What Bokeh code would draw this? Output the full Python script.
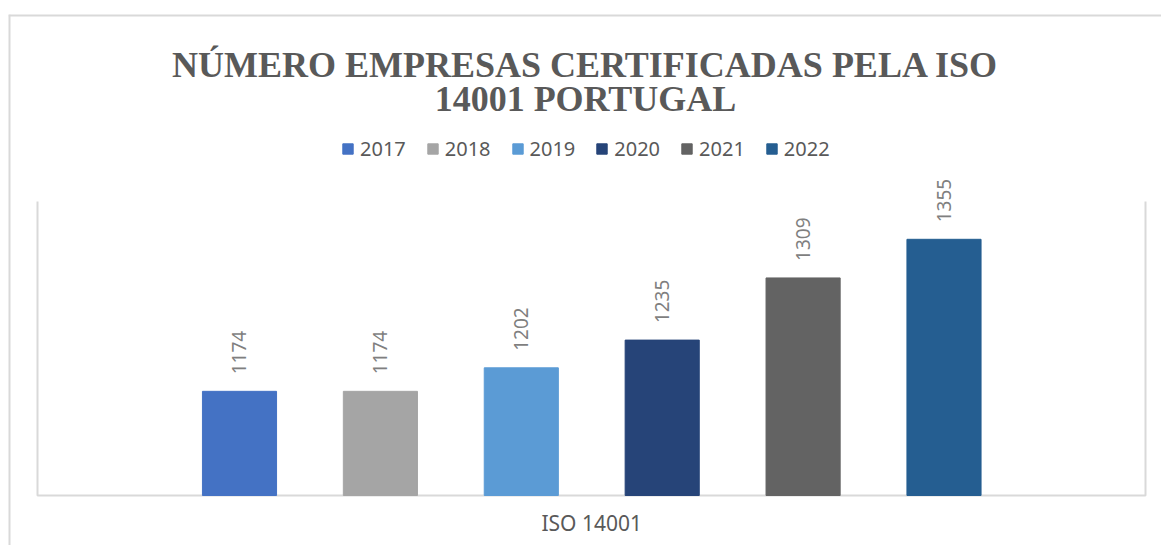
import math
from bokeh.plotting import figure
from bokeh.models import (Range1d, ColumnDataSource, Legend, LegendItem, LabelSet,
                          Label, Span)
from bokeh.core.properties import value
from bokeh.embed import file_html
from bokeh.resources import INLINE

category = ["ISO 14001"]
years = ["2017", "2018", "2019", "2020", "2021", "2022"]
counts = [1174, 1174, 1202, 1235, 1309, 1355]
colors = ["#4472C4", "#A5A5A5", "#5B9BD5", "#264478", "#636363", "#255E91"]
title_lines = ["NÚMERO EMPRESAS CERTIFICADAS PELA ISO", "14001 PORTUGAL"]
y_axis_min, y_axis_max = 1050, 1400

# ---- layout constants (canvas pixels) ----
W, H = 1161, 545
FR_LEFT, FR_TOP = 8, 14        # outer chart frame lines
PX_X = 140.9                   # pixels per category slot
PX_Y = 0.84                    # pixels per unit
FIRST_CENTER = 239             # x of first bar centre
BASE = 495                     # y of value-axis minimum
PA_LEFT, PA_RIGHT = 37, 1145   # plot-area border lines

x0 = (FR_LEFT - FIRST_CENTER) / PX_X
x1 = (W - FIRST_CENTER) / PX_X
y0 = y_axis_min - (H - BASE) / PX_Y
y1 = y_axis_min + (BASE - FR_TOP) / PX_Y
pa_l = (PA_LEFT - FIRST_CENTER) / PX_X
pa_r = (PA_RIGHT - FIRST_CENTER) / PX_X

xs = list(range(len(years)))
src = ColumnDataSource(dict(x=xs, top=counts, year=years, color=colors,
                            label=[str(c) for c in counts]))

p = figure(width=W, height=H, output_backend="svg", toolbar_location=None,
           x_range=Range1d(x0, x1), y_range=Range1d(y0, y1),
           min_border_left=FR_LEFT, min_border_right=0, min_border_top=FR_TOP,
           min_border_bottom=0)
p.xaxis.visible = False
p.yaxis.visible = False
p.grid.visible = False
p.outline_line_color = None
p.background_fill_color = "white"
p.border_fill_color = "white"

# outer chart frame (top and left)
p.add_layout(Span(location=y1, dimension="width", line_color="#d9d9d9", line_width=4))
p.add_layout(Span(location=x0, dimension="height", line_color="#d9d9d9", line_width=4))

# plot-area border (left, bottom, right)
p.line(x=[pa_l, pa_l, pa_r, pa_r], y=[y_axis_max, y_axis_min, y_axis_min, y_axis_max],
       line_color="#d9d9d9", line_width=2)

r = p.vbar(x="x", top="top", bottom=y_axis_min, width=0.526, color="color", source=src)

p.add_layout(LabelSet(x="x", y="top", text="label", source=src, angle=math.pi / 2,
                      text_align="left", text_baseline="middle", y_offset=17,
                      text_color="#7f7f7f", text_font_size="19px",
                      text_font=value("Noto Sans")))

# category label
p.text(x=[(len(years) - 1) / 2], y=[y_axis_min], text=category, y_offset=27,
       text_align="center", text_baseline="middle", text_font_size="21px",
       text_color="#595959", text_font=value("Noto Sans"))

legend = Legend(items=[LegendItem(label=y, renderers=[r], index=i) for i, y in enumerate(years)],
                orientation="horizontal", location=(341 - FR_LEFT, H - 162), margin=0, padding=0,
                spacing=20, glyph_width=13, glyph_height=13, label_standoff=6,
                label_text_font_size="20px", label_text_color="#595959",
                label_text_font="Noto Sans", border_line_alpha=0,
                background_fill_alpha=0)
p.add_layout(legend, "center")

for txt, cy in zip(title_lines, [64, 98]):
    p.add_layout(Label(x=585 - FR_LEFT, y=H - cy, x_units="screen", y_units="screen",
                       text=txt, text_align="center", text_baseline="middle",
                       text_font="Liberation Serif", text_font_style="bold",
                       text_font_size="36px", text_color="#595959"))

open("out.html", "w").write(file_html(p, INLINE))
